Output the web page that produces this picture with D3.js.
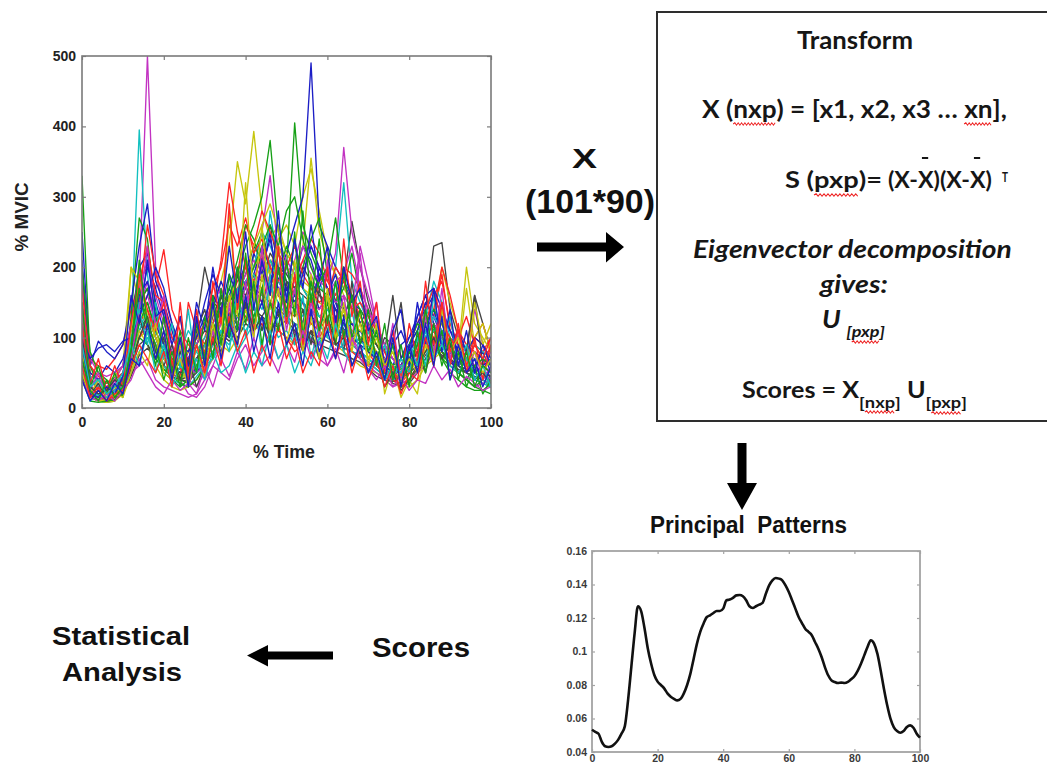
<!DOCTYPE html>
<html>
<head>
<meta charset="utf-8">
<script src="https://cdn.jsdelivr.net/npm/d3@7"></script>
<style>
  html, body { margin: 0; padding: 0; background: #fff; }
  svg { display: block; }
  text { white-space: pre; }
</style>
</head>
<body>
<svg id="fig" width="1047" height="779"></svg>
<script>
// ---------------- data ----------------
// EMG amplitude (% MVIC) of individual trials, sampled every 2 % of the cycle
const trialTime = [0,2,4,6,8,10,12,14,16,18,20,22,24,26,28,30,32,34,36,38,40,42,44,46,48,50,52,54,56,58,60,62,64,66,68,70,72,74,76,78,80,82,84,86,88,90,92,94,96,98,100];

const blueTrials = [
  [250,60,95,80,70,90,150,230,290,180,150,110,70,60,90,120,140,180,150,200,170,220,190,250,160,200,180,230,210,170,200,150,130,160,120,140,110,80,60,90,100,120,140,160,130,110,90,70,60,80,50],
  [210,40,30,25,45,60,120,200,220,150,110,80,60,40,70,90,110,130,170,140,180,160,200,240,180,220,260,300,490,260,230,200,180,150,140,120,100,80,70,60,90,110,150,130,100,80,60,70,50,40,60],
  [120,30,20,15,25,40,90,160,180,120,90,60,50,70,100,150,190,160,130,110,140,120,150,110,130,170,150,120,180,140,160,190,140,100,110,90,70,50,40,60,80,130,160,120,90,70,50,60,80,70,40],
  [80,50,40,60,50,70,110,140,200,170,130,100,80,60,50,70,90,110,100,130,150,190,230,200,170,140,160,150,130,200,170,150,110,120,100,80,70,60,90,110,80,100,120,140,100,90,110,80,100,90,70],
  [100,70,85,90,80,95,100,130,160,200,170,120,90,80,100,130,160,140,190,160,210,170,150,180,200,170,150,190,230,200,170,140,120,100,90,80,70,60,50,70,100,130,160,170,140,110,80,60,50,60,70],
  [90,20,15,30,20,45,160,120,210,130,140,90,130,60,150,110,200,130,230,150,250,140,210,160,280,150,240,170,260,180,230,120,200,150,170,110,130,60,110,140,60,150,90,170,80,140,60,110,50,90,60],
  [40,10,25,10,35,20,70,60,120,70,110,40,100,30,130,60,150,70,120,90,160,80,130,70,150,90,120,60,140,80,110,70,130,60,90,50,80,40,100,30,90,50,120,60,130,40,90,50,70,30,60]
];
const greenTrials = [
  [330,60,30,20,15,20,130,270,240,140,90,60,45,50,70,90,120,150,130,170,140,220,250,190,160,150,140,120,160,130,120,100,110,90,80,70,60,50,40,50,60,80,100,90,70,50,40,30,25,25,20],
  [100,20,10,8,10,30,80,150,170,130,90,60,40,35,55,80,100,130,160,190,230,260,300,380,250,200,405,260,220,190,170,150,140,120,100,90,70,60,50,70,90,110,130,110,80,60,50,40,30,40,30],
  [60,15,10,10,15,40,90,130,110,80,50,40,30,40,60,80,110,140,170,210,260,240,200,170,220,180,160,200,240,270,190,150,170,220,160,130,100,80,60,70,90,120,110,90,70,60,50,40,60,50,40],
  [40,10,8,10,12,25,60,100,90,70,55,45,35,30,40,60,80,100,130,120,150,130,170,210,190,230,200,170,150,180,200,270,180,160,140,120,90,70,60,55,70,90,110,100,80,60,50,40,30,25,35],
  [200,80,50,40,30,35,70,120,150,110,80,70,60,50,60,90,110,140,120,150,170,200,230,260,230,280,300,240,200,170,160,140,120,100,90,80,70,55,45,40,60,90,120,140,120,90,70,60,60,70,60],
  [150,30,60,20,50,15,90,170,110,60,130,50,110,40,120,70,160,90,190,110,220,120,170,90,200,130,250,100,180,110,150,90,200,100,140,80,110,40,90,30,80,60,140,70,110,40,80,30,60,20,40],
  [70,25,10,40,15,30,80,210,120,90,40,80,30,100,50,130,70,170,100,200,120,180,90,150,110,210,130,280,150,240,120,180,100,160,90,140,60,120,40,90,30,110,50,120,60,100,40,80,30,60,50]
];
const redTrials = [
  [200,70,60,55,70,90,140,180,200,170,225,140,110,90,80,100,140,210,320,250,200,180,220,160,200,140,170,150,130,180,190,150,200,160,130,110,90,70,50,60,90,120,150,130,190,110,90,70,100,120,80],
  [150,40,25,20,20,30,70,150,260,190,160,120,80,60,70,90,120,160,130,190,260,230,280,250,220,200,180,210,240,220,180,160,200,190,170,140,110,90,70,60,80,100,120,160,180,120,90,80,100,90,70],
  [90,30,20,15,20,35,80,120,140,100,70,60,55,80,110,90,100,120,100,150,130,110,120,90,110,100,80,90,110,100,120,90,100,80,70,60,70,50,40,30,40,60,90,110,80,70,100,130,90,80,100],
  [60,20,15,12,15,25,60,100,120,90,60,50,40,150,110,80,90,130,150,180,200,170,150,190,160,140,130,150,120,110,130,140,110,90,100,80,60,50,40,35,50,70,120,140,200,160,110,90,80,60,50],
  [170,60,45,35,40,50,90,180,230,160,150,100,80,70,100,120,170,200,260,230,270,220,240,200,180,200,230,190,170,150,160,200,180,140,150,130,110,80,50,40,55,80,140,170,120,100,80,60,50,60,90],
  [120,35,70,25,60,30,120,190,140,110,150,60,130,50,140,70,180,120,290,140,210,110,170,100,230,120,190,90,160,110,200,100,240,130,180,90,150,50,110,40,120,70,180,90,150,60,120,50,100,40,90],
  [60,15,30,10,20,25,60,90,70,50,80,30,150,40,90,50,100,60,130,80,110,50,90,60,120,70,100,50,80,60,130,70,110,50,90,40,70,30,60,20,50,40,100,60,150,80,110,60,90,70,100]
];
const cyanTrials = [
  [110,30,20,15,20,40,110,395,190,100,60,40,35,30,45,60,80,100,90,120,110,130,150,280,200,170,150,130,160,180,150,200,320,180,150,120,100,80,60,50,70,100,140,120,90,70,60,50,40,35,30],
  [80,25,18,12,15,30,70,110,140,100,70,50,40,60,80,100,120,140,110,170,180,200,250,230,200,190,170,150,140,130,120,110,100,90,80,70,60,50,40,45,60,90,130,180,150,100,80,70,60,50,45],
  [50,20,15,12,18,30,50,80,100,80,60,55,50,45,55,70,90,110,100,120,150,160,140,170,150,130,120,110,140,120,100,90,85,80,75,65,55,45,40,50,60,70,80,90,100,80,70,60,70,60,50],
  [70,45,40,35,40,50,90,120,110,80,70,65,60,70,80,60,70,90,110,80,100,120,110,130,100,110,90,120,100,90,110,100,120,90,80,70,60,50,55,60,65,70,90,110,120,100,80,70,90,80,70],
  [90,40,30,25,30,45,90,150,120,90,60,45,80,110,90,70,90,110,130,150,170,190,160,210,180,160,200,170,150,130,140,120,110,100,95,85,70,60,50,40,60,80,100,130,110,90,70,60,50,40,30],
  [60,10,20,15,25,30,100,140,90,150,70,120,60,140,50,90,70,110,80,170,100,150,80,190,110,140,90,160,70,120,100,180,90,140,70,110,60,90,40,70,50,100,60,160,90,130,60,90,40,50,30],
  [90,30,40,20,30,50,90,60,110,50,90,30,60,45,70,40,80,50,60,90,50,80,60,110,70,90,50,80,60,100,70,120,80,60,90,50,70,40,60,50,90,60,110,70,90,60,50,70,40,60,30]
];
const magentaTrials = [
  [180,60,40,30,35,50,110,180,500,200,130,90,60,40,30,50,70,100,130,160,200,180,220,190,170,150,180,210,190,160,140,130,120,110,100,80,70,60,50,40,50,70,100,120,90,70,60,50,40,35,30],
  [130,40,30,20,25,35,80,140,180,130,90,60,40,20,15,30,60,90,120,150,180,200,250,330,220,190,210,250,230,200,180,220,370,250,200,160,120,90,70,60,80,100,120,140,120,90,70,60,140,90,60],
  [60,25,20,15,20,30,50,60,70,40,30,25,20,15,20,40,60,50,40,70,90,60,80,100,70,90,110,80,100,70,60,80,90,100,80,60,50,40,30,35,40,50,60,80,90,70,50,40,30,35,40],
  [100,40,35,30,40,60,90,130,160,120,100,80,70,60,90,120,150,170,140,160,190,210,180,200,230,210,190,170,150,140,160,180,190,230,170,140,110,90,70,60,70,80,100,130,110,90,70,60,50,60,80],
  [150,70,50,45,50,60,120,170,210,160,120,90,70,55,50,60,90,120,140,120,150,170,200,180,160,210,190,230,200,180,170,150,160,140,230,180,120,90,70,50,60,80,110,120,100,80,70,80,60,50,40],
  [110,25,50,20,40,25,70,140,230,110,160,60,100,30,70,40,110,70,150,90,180,100,230,120,200,110,170,80,150,100,210,110,160,90,220,110,150,60,120,40,90,60,130,80,170,70,110,50,80,40,60],
  [40,15,10,20,10,25,40,70,50,30,20,40,25,35,20,60,30,70,45,80,55,100,60,75,50,90,65,110,70,95,60,85,50,100,70,55,40,60,30,45,25,40,35,60,40,55,30,45,35,25,30]
];
const yellowTrials = [
  [90,30,20,25,40,60,200,150,130,100,80,60,50,70,90,120,150,180,230,350,290,393,280,240,260,220,200,230,355,250,210,190,170,150,130,110,90,70,50,40,50,70,100,130,200,150,110,80,70,60,50],
  [70,25,15,10,12,20,60,100,110,80,60,45,40,50,60,80,100,120,110,140,160,180,170,200,240,260,230,300,340,280,220,190,160,140,120,100,80,60,40,30,30,40,60,80,100,90,70,170,90,70,60],
  [40,15,10,8,10,20,50,110,90,60,40,30,25,30,40,55,70,90,80,100,120,110,130,120,110,100,90,100,120,110,100,90,80,70,60,55,50,45,40,35,40,50,60,70,80,70,60,80,100,120,80],
  [110,50,40,35,45,60,100,140,120,90,70,60,65,80,100,90,110,130,150,170,200,230,260,290,250,220,200,180,170,160,150,140,130,120,110,100,80,60,50,45,55,70,90,100,110,90,80,70,60,70,60],
  [60,30,20,15,18,30,200,180,130,100,70,55,45,50,60,70,90,120,150,190,170,200,220,190,230,200,180,170,160,150,140,130,120,110,100,90,80,70,60,50,40,60,80,100,120,100,80,200,120,100,80],
  [80,20,40,15,30,20,110,190,130,80,110,40,90,35,120,60,140,90,280,130,320,150,260,140,230,120,210,110,190,100,170,90,150,80,140,60,120,20,60,15,40,20,90,60,130,70,110,50,150,90,120],
  [50,15,10,12,20,15,50,80,60,120,50,40,70,30,90,45,120,70,160,90,140,100,190,110,170,90,150,80,130,70,160,100,140,90,120,70,100,60,80,40,70,50,90,70,140,80,100,60,80,50,70]
];
const blackTrials = [
  [140,50,40,30,30,40,90,150,170,120,90,70,60,80,120,200,150,140,120,160,190,230,210,260,200,180,170,160,150,190,170,160,180,265,200,150,110,80,160,70,50,90,140,230,235,140,100,80,160,120,80],
  [90,30,25,20,25,35,70,110,130,100,70,55,45,60,90,110,100,120,140,130,150,170,160,150,180,160,150,140,130,120,140,130,120,110,100,90,80,60,40,30,35,50,70,90,110,80,60,50,60,50,40],
  [60,20,15,12,15,25,55,90,100,80,60,50,40,45,60,75,90,105,95,110,125,140,130,150,140,130,120,115,105,100,95,90,85,80,75,65,55,45,35,30,40,55,70,85,75,65,55,50,45,40,35],
  [45,18,12,10,12,20,45,75,85,70,55,45,40,38,50,65,80,95,110,100,120,110,130,120,115,125,110,100,95,90,85,80,75,70,65,55,45,40,38,42,50,60,75,90,80,70,60,55,50,45,40],
  [110,40,30,25,30,45,90,140,150,110,80,60,50,55,70,90,130,160,150,170,160,190,180,220,200,190,170,200,180,160,150,140,130,160,120,100,90,70,55,50,60,80,100,120,100,80,70,60,55,50,45],
  [70,20,35,15,30,20,80,130,90,70,100,50,80,40,110,140,90,160,120,190,140,170,110,150,130,180,100,140,90,170,110,130,80,180,90,120,70,100,90,150,60,80,50,100,70,90,60,80,160,60,50],
  [100,30,20,25,40,30,60,100,130,80,60,90,40,70,30,60,100,80,120,90,150,110,130,100,140,90,120,80,110,70,130,90,100,60,80,50,70,30,50,25,40,60,80,100,70,90,50,70,40,50,35]
];
const trialColors = ["#1c1ec6", "#16a016", "#ff2626", "#12c0c0", "#c232c2", "#c6c60e", "#444444"];

const mvicTicks = [0, 100, 200, 300, 400, 500];
const timeTicks = [0, 20, 40, 60, 80, 100];

// first principal pattern (loading vector), one value per % of the cycle
const patternValues = [
  0.0533,0.052,0.0509,0.046,0.0434,0.043,0.0434,0.045,0.0474,0.051,
  0.0553,0.071,0.091,0.111,0.127,0.124,0.114,0.102,0.093,0.086,
  0.082,0.080,0.078,0.075,0.073,0.0717,0.0708,0.0717,0.075,0.080,
  0.0868,0.0957,0.1047,0.1117,0.1166,0.1206,0.1216,0.123,0.1242,0.1242,
  0.1256,0.1306,0.131,0.132,0.1335,0.1337,0.133,0.1306,0.127,0.126,
  0.127,0.128,0.129,0.1345,0.1395,0.1425,0.1439,0.1435,0.1425,0.1395,
  0.1355,0.1306,0.1256,0.1206,0.117,0.1136,0.1117,0.1097,0.1057,0.1017,
  0.0967,0.0907,0.0858,0.0828,0.0818,0.0812,0.0814,0.0812,0.0818,0.0834,
  0.0852,0.0884,0.0927,0.0977,0.1027,0.1067,0.1047,0.0987,0.0888,0.0778,
  0.0679,0.0599,0.0549,0.0525,0.0515,0.0525,0.0549,0.0559,0.0545,0.0509,
  0.0486
];
const patternYTicks = [0.04, 0.06, 0.08, 0.10, 0.12, 0.14, 0.16];
const patternYLabels = ["0.04", "0.06", "0.08", "0.1", "0.12", "0.14", "0.16"];
const patternXTicks = [0, 20, 40, 60, 80, 100];

// ---------------- drawing ----------------
const svg = d3.select("#fig");
const SANS = "'Liberation Sans', Arial, sans-serif";
const BOXFONT = "Lato, 'Open Sans', sans-serif";

// axis helper: box frame with inward ticks on all four sides
function boxAxes(x, y, o) {
  const [x0, x1] = x.range();
  const [y0, y1] = y.range();
  const g = svg.append("g");
  g.append("g").attr("transform", `translate(0,${y0})`)
    .call(d3.axisBottom(x).tickValues(o.xTicks).tickSizeInner(-o.tick).tickSizeOuter(0)
      .tickPadding(o.xPad).tickFormat(o.xFmt));
  g.append("g").attr("transform", `translate(${x0},0)`)
    .call(d3.axisLeft(y).tickValues(o.yTicks).tickSizeInner(-o.tick).tickSizeOuter(0)
      .tickPadding(o.yPad).tickFormat(o.yFmt));
  g.append("g").attr("transform", `translate(0,${y1})`)
    .call(d3.axisTop(x).tickValues(o.xTicks).tickSizeInner(-o.tick).tickSizeOuter(0).tickFormat(""));
  g.append("g").attr("transform", `translate(${x1},0)`)
    .call(d3.axisRight(y).tickValues(o.yTicks).tickSizeInner(-o.tick).tickSizeOuter(0).tickFormat(""));
  g.selectAll(".domain").remove();
  g.selectAll(".tick line").attr("stroke", o.frame).attr("stroke-width", 1.2);
  g.selectAll(".tick text").attr("font-family", SANS).attr("font-size", o.fontSize)
    .attr("font-weight", o.fontWeight).attr("fill", o.textColor);
  g.append("rect").attr("x", x0).attr("y", y1).attr("width", x1 - x0).attr("height", y0 - y1)
    .attr("fill", "none").attr("stroke", o.frame).attr("stroke-width", o.frameWidth);
  return g;
}

// ---- spaghetti plot of all trials ----
const emgX = d3.scaleLinear().domain([0, 100]).range([82, 491]);
const emgY = d3.scaleLinear().domain([0, 500]).range([408, 56]);

svg.append("clipPath").attr("id", "emgClip").append("rect")
  .attr("x", 82).attr("y", 56).attr("width", 409).attr("height", 352);

// plotting order cycles through the colours, one trial of each at a time (blue drawn last)
const colourGroups = [blueTrials, greenTrials, redTrials, cyanTrials, magentaTrials, yellowTrials, blackTrials];
const trials = [];
for (let k = 0; k < 7; k++) {
  for (let ci = colourGroups.length - 1; ci >= 0; ci--) {
    const grp = colourGroups[ci];
    if (grp[k]) trials.push({ values: grp[k], color: trialColors[ci] });
  }
}
const trialLine = d3.line()
  .x((d, i) => emgX(trialTime[i]))
  .y(d => emgY(d));

svg.append("g").attr("clip-path", "url(#emgClip)")
  .selectAll("path").data(trials).join("path")
  .attr("d", d => trialLine(d.values))
  .attr("fill", "none")
  .attr("stroke", d => d.color)
  .attr("stroke-width", 1.35)
  .attr("stroke-linejoin", "round");

boxAxes(emgX, emgY, {
  xTicks: timeTicks, yTicks: mvicTicks, tick: 4, xPad: 9, yPad: 6,
  xFmt: d3.format("d"), yFmt: d3.format("d"),
  frame: "#7a7a7a", frameWidth: 1.6, fontSize: 14, fontWeight: "bold", textColor: "#222"
});

svg.append("text").attr("transform", "translate(28,217) rotate(-90)")
  .attr("text-anchor", "middle").attr("font-family", SANS).attr("font-weight", "bold")
  .attr("font-size", 18).attr("fill", "#222")
  .attr("textLength", 69).attr("lengthAdjust", "spacingAndGlyphs").text("% MVIC");
svg.append("text").attr("x", 253).attr("y", 458)
  .attr("font-family", SANS).attr("font-weight", "bold").attr("font-size", 18).attr("fill", "#222")
  .attr("textLength", 62).attr("lengthAdjust", "spacingAndGlyphs").text("% Time");

// ---- data matrix label and arrows ----
svg.append("text").attr("x", 572).attr("y", 168)
  .attr("font-family", SANS).attr("font-weight", "bold").attr("font-size", 28).attr("fill", "#111")
  .attr("textLength", 25).attr("lengthAdjust", "spacingAndGlyphs").text("X");
svg.append("text").attr("x", 525).attr("y", 213)
  .attr("font-family", SANS).attr("font-weight", "bold").attr("font-size", 33).attr("fill", "#111")
  .attr("textLength", 130).attr("lengthAdjust", "spacingAndGlyphs").text("(101*90)");

const arrows = svg.append("g").attr("fill", "#000");
arrows.append("path").attr("d", "M537,242.5 H606 V232 L624,247 L606,262.5 V251.5 H537 Z");
arrows.append("path").attr("d", "M737.5,443 H746.5 V483 H757 L742,510 L727,483 H737.5 Z");
arrows.append("path").attr("d", "M333,651.5 H268 V645 L247,655.5 L268,666.5 V659.5 H333 Z");

// ---- transform box ----
svg.append("rect").attr("x", 657).attr("y", 12).attr("width", 420).attr("height", 409)
  .attr("fill", "#fff").attr("stroke", "#2e2e2e").attr("stroke-width", 2);

function squigglePath(a, b, y) {
  let d = `M${a},${y}`;
  let up = true;
  for (let x = a + 1.6; x <= b; x += 1.6) { d += ` L${x.toFixed(1)},${(y + (up ? -1.2 : 1.2)).toFixed(1)}`; up = !up; }
  return d;
}

// text line made of styled runs, stretched to a given width
function richLine(segs, x0, baseline, targetWidth) {
  const g = svg.append("g");
  let cx = 0;
  segs.forEach(s => {
    const dy = s.dy || 0;
    const t = g.append("text").attr("x", cx).attr("y", dy)
      .attr("font-family", s.family || BOXFONT).attr("font-size", s.size)
      .attr("font-weight", s.weight || "bold").attr("font-style", s.italic ? "italic" : "normal")
      .attr("fill", "#161616").text(s.text);
    const w = t.node().getComputedTextLength();
    if (s.squiggle) {
      g.append("path").attr("d", squigglePath(cx, cx + w, dy + (s.sqOff || 6)))
        .attr("fill", "none").attr("stroke", "#e22").attr("stroke-width", 1);
    }
    if (s.bar) {
      g.append("rect").attr("x", cx + w * 0.25).attr("y", dy - s.bar).attr("width", w * 0.4).attr("height", 2)
        .attr("fill", "#161616");
    }
    cx += w + (s.gap || 0);
  });
  g.attr("transform", `translate(${x0},${baseline}) scale(${targetWidth / cx},1)`);
}

richLine([{ text: "Transform", size: 24 }], 797, 49, 116);

richLine([
  { text: "X (", size: 25 }, { text: "nxp", size: 25, squiggle: true },
  { text: ") = [x1, x2, x3 \u2026 ", size: 25 }, { text: "xn", size: 25, squiggle: true },
  { text: "],", size: 25 }
], 702, 118, 305);

richLine([
  { text: "S (", size: 22 }, { text: "pxp", size: 22, squiggle: true, sqOff: 7 }, { text: ")=", size: 22 }
], 785, 188, 97);
richLine([
  { text: "(X-", size: 22 }, { text: "X", size: 22, bar: 31 },
  { text: ")(X-", size: 22 }, { text: "X", size: 22, bar: 31 },
  { text: ")", size: 22 }
], 888, 188, 104);
richLine([{ text: "T", size: 13 }], 1002, 182, 6);

richLine([{ text: "Eigenvector decomposition", size: 24, italic: true }], 693, 258, 319);
richLine([{ text: "gives:", size: 24, italic: true }], 820, 293, 68);
richLine([
  { text: "U", size: 24, italic: true, gap: 5 },
  { text: "[", size: 16, italic: true, dy: 9 }, { text: "pxp", size: 16, italic: true, dy: 9, squiggle: true, sqOff: 5 },
  { text: "]", size: 16, italic: true, dy: 9 }
], 822, 328, 63);

richLine([
  { text: "Scores = X", size: 22 },
  { text: "[", size: 16, dy: 10 }, { text: "nxp", size: 16, dy: 10, squiggle: true, sqOff: 4 }, { text: "]", size: 16, dy: 10 },
  { text: " U", size: 22 },
  { text: "[", size: 16, dy: 10 }, { text: "pxp", size: 16, dy: 10, squiggle: true, sqOff: 5 }, { text: "]", size: 16, dy: 10 }
], 742, 398, 225);

// ---- principal pattern ----
svg.append("text").attr("x", 650).attr("y", 533)
  .attr("font-family", SANS).attr("font-weight", "bold").attr("font-size", 23).attr("fill", "#111")
  .attr("textLength", 197).attr("lengthAdjust", "spacingAndGlyphs").text("Principal  Patterns");

const pcX = d3.scaleLinear().domain([0, 100]).range([592, 920]);
const pcY = d3.scaleLinear().domain([0.04, 0.16]).range([752, 551]);

boxAxes(pcX, pcY, {
  xTicks: patternXTicks, yTicks: patternYTicks, tick: 3, xPad: 3, yPad: 5,
  xFmt: d3.format("d"), yFmt: (d, i) => patternYLabels[i],
  frame: "#a4a4a4", frameWidth: 1.8, fontSize: 10.5, fontWeight: "bold", textColor: "#3a3a3a"
});

svg.append("path")
  .datum(patternValues)
  .attr("d", d3.line().x((d, i) => pcX(i)).y(d => pcY(d)).curve(d3.curveMonotoneX))
  .attr("fill", "none").attr("stroke", "#111").attr("stroke-width", 2.6).attr("stroke-linejoin", "round");

// ---- scores -> statistical analysis ----
svg.append("text").attr("x", 372).attr("y", 657)
  .attr("font-family", SANS).attr("font-weight", "bold").attr("font-size", 27).attr("fill", "#111")
  .attr("textLength", 98).attr("lengthAdjust", "spacingAndGlyphs").text("Scores");
svg.append("text").attr("x", 52).attr("y", 645)
  .attr("font-family", SANS).attr("font-weight", "bold").attr("font-size", 25).attr("fill", "#111")
  .attr("textLength", 138).attr("lengthAdjust", "spacingAndGlyphs").text("Statistical");
svg.append("text").attr("x", 62).attr("y", 681)
  .attr("font-family", SANS).attr("font-weight", "bold").attr("font-size", 25).attr("fill", "#111")
  .attr("textLength", 120).attr("lengthAdjust", "spacingAndGlyphs").text("Analysis");
</script>
</body>
</html>
